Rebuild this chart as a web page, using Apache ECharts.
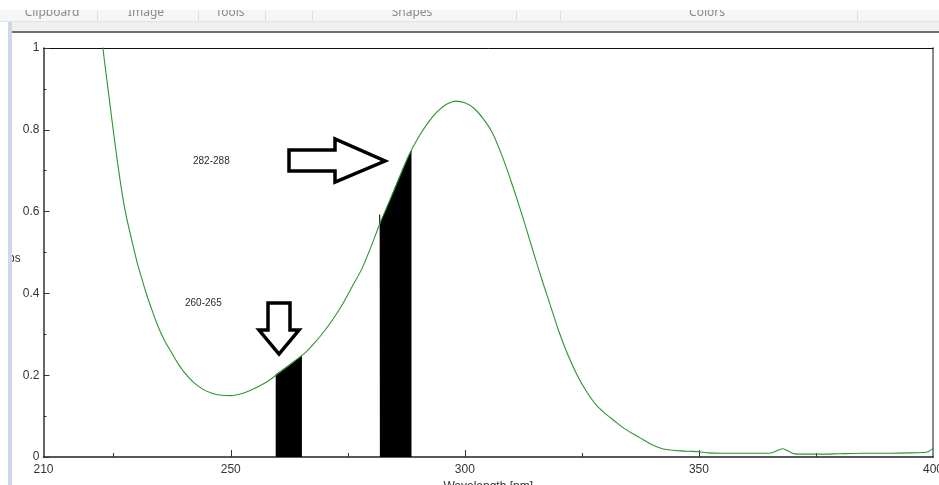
<!DOCTYPE html>
<html>
<head>
<meta charset="utf-8">
<script src="https://cdn.jsdelivr.net/npm/echarts@6/dist/echarts.min.js"></script>
<style>
  html, body { margin: 0; padding: 0; background: #fff; }
  #spectrum { width: 939px; height: 485px; }
</style>
</head>
<body>
<div id="spectrum"></div>
<script>
// wavelength (nm) and absorbance
const wavelength = [
  222, 223, 224, 225, 226, 227, 228, 229, 230, 231, 232, 233, 234, 235, 236, 237, 238, 239, 240,
  242, 244, 246, 248, 250, 252, 254, 256, 258, 260, 262, 264, 266, 268, 270, 272, 274, 276, 278,
  280, 282, 284, 286, 288, 290, 292, 294, 296, 298, 300, 302, 304, 306, 308, 310, 312, 314, 316,
  318, 320, 322, 324, 326, 328, 330, 332, 334, 336, 338, 340, 342, 344, 346, 348, 350, 352, 355,
  360, 365, 366, 367, 368, 369, 370, 371, 375, 380, 385, 390, 395, 398, 399, 400
]
const absorbance = [
  1.07, 0.97, 0.88, 0.79, 0.705, 0.63, 0.572, 0.523, 0.476, 0.436, 0.398, 0.365, 0.333, 0.305, 0.282, 0.262, 0.242, 0.224, 0.208,
  0.183, 0.166, 0.156, 0.151, 0.150, 0.154, 0.162, 0.173, 0.186, 0.203, 0.22, 0.238, 0.256, 0.28, 0.308, 0.34, 0.376, 0.418, 0.46,
  0.515, 0.575, 0.628, 0.683, 0.737, 0.78, 0.815, 0.843, 0.862, 0.870, 0.866, 0.852, 0.826, 0.79, 0.735, 0.67, 0.60, 0.525, 0.45,
  0.38, 0.31, 0.25, 0.20, 0.16, 0.128, 0.106, 0.088, 0.07, 0.056, 0.043, 0.03, 0.021, 0.017, 0.015, 0.014, 0.013, 0.01, 0.009,
  0.009, 0.009, 0.012, 0.017, 0.02, 0.015, 0.009, 0.007, 0.007, 0.008, 0.009, 0.009, 0.01, 0.011, 0.013, 0.021
]

// shaded bands (260-265 and 282-288), top edge
const band1X = [259.6, 261, 263, 265.2]
const band1Y = [0.201, 0.212, 0.229, 0.246]
const band2X = [281.8, 281.85, 283, 285, 287, 288.6]
const band2Y = [0.593, 0.57, 0.60, 0.655, 0.71, 0.748]

const xLabels = [210, 250, 300, 350, 400]
const xMajorTicks = [250, 300, 350]
const xMinorTicks = [225, 275, 325, 375]
const bandLabels = ['282-288', '260-265']
const toolbarLabels = ['Clipboard', 'Image', 'Tools', 'Shapes', 'Colors']

const zip = (xs, ys) => xs.map((x, i) => [x, ys[i]])

const myChart = echarts.init(document.getElementById('spectrum'))

const axisFont = { fontFamily: 'Liberation Sans', fontSize: 12, color: '#333' }

const options = {
  animation: false,
  backgroundColor: '#fff',
  grid: { left: 43.5, right: 6, top: 48, bottom: 28, outerBoundsMode: 'none', containLabel: false },
  xAxis: [
    {
      type: 'value',
      min: 210,
      max: 400,
      position: 'bottom',
      name: 'Wavelength [nm]',
      nameLocation: 'middle',
      nameGap: 23,
      nameTextStyle: axisFont,
      axisLine: { lineStyle: { color: '#222', width: 1.5 } },
      axisTick: { inside: true, length: 7, customValues: xMajorTicks, lineStyle: { color: '#333' } },
      axisLabel: { customValues: xLabels, margin: 7, ...axisFont },
      splitLine: { show: false }
    },
    {
      // short ticks between the labelled ones
      type: 'value',
      min: 210,
      max: 400,
      position: 'bottom',
      axisLine: { show: false },
      axisTick: { inside: true, length: 4, customValues: xMinorTicks, lineStyle: { color: '#333' } },
      axisLabel: { show: false },
      splitLine: { show: false }
    },
    {
      // frame on top
      type: 'value',
      min: 210,
      max: 400,
      position: 'top',
      axisLine: { lineStyle: { color: '#111', width: 1 } },
      axisTick: { show: false },
      axisLabel: { show: false },
      splitLine: { show: false }
    }
  ],
  yAxis: [
    {
      type: 'value',
      min: 0,
      max: 1,
      interval: 0.2,
      axisLine: { show: true, lineStyle: { color: '#333', width: 1.5 } },
      axisTick: { show: true, inside: true, length: 6, lineStyle: { color: '#333' } },
      minorTick: { show: true, splitNumber: 2, length: 3, lineStyle: { color: '#333' } },
      axisLabel: { margin: 4, ...axisFont },
      splitLine: { show: false }
    },
    {
      type: 'value',
      min: 0,
      max: 1,
      position: 'right',
      axisLine: { show: true, lineStyle: { color: '#888', width: 2 } },
      axisTick: { show: false },
      axisLabel: { show: false },
      splitLine: { show: false }
    }
  ],
  series: [
    {
      type: 'line',
      data: zip(band1X, band1Y),
      symbol: 'none',
      lineStyle: { color: '#000', width: 1 },
      areaStyle: { color: '#000', opacity: 1 },
      z: 2
    },
    {
      type: 'line',
      data: zip(band2X, band2Y),
      symbol: 'none',
      lineStyle: { color: '#000', width: 1 },
      areaStyle: { color: '#000', opacity: 1 },
      z: 2
    },
    {
      type: 'line',
      data: zip(wavelength, absorbance),
      symbol: 'none',
      smooth: 0.2,
      clip: true,
      lineStyle: { color: '#2e9430', width: 1.1 },
      z: 3
    }
  ],
  graphic: [
    // band captions
    { type: 'text', left: 193, top: 156, style: { text: bandLabels[0], font: '10px "Liberation Sans"', fill: '#2a2a35' } },
    { type: 'text', left: 185, top: 298, style: { text: bandLabels[1], font: '10px "Liberation Sans"', fill: '#2a2a35' } },
    // block arrows
    {
      type: 'polygon',
      shape: { points: [[289, 150], [335, 150], [335, 139], [385, 161], [335, 182], [335, 171], [289, 171]] },
      style: { fill: '#fff', stroke: '#000', lineWidth: 3.5, lineJoin: 'miter' },
      z: 10
    },
    {
      type: 'polygon',
      shape: { points: [[268, 303], [290, 303], [290, 330], [299, 330], [279, 354], [259, 330], [268, 330]] },
      style: { fill: '#fff', stroke: '#000', lineWidth: 3.5, lineJoin: 'miter' },
      z: 10
    },
    // y axis caption, clipped by the window edge
    { type: 'text', left: 0, top: 253, style: { text: 'Abs', font: '12px "Liberation Sans"', fill: '#333', align: 'right', x: 22 }, z: 5 },
    { type: 'rect', shape: { x: 0, y: 22, width: 8, height: 463 }, style: { fill: '#fff' }, z: 6 },
    { type: 'rect', shape: { x: 8, y: 22, width: 4, height: 463 }, style: { fill: '#cdd9ea' }, z: 6 },
    // paint toolbar strip
    { type: 'rect', shape: { x: 0, y: 10, width: 939, height: 11 }, style: { fill: '#f5f6f7' }, z: 6 },
    { type: 'rect', shape: { x: 0, y: 21, width: 939, height: 1 }, style: { fill: '#e2e3e5' }, z: 6 },
    { type: 'rect', shape: { x: 12, y: 22, width: 927, height: 9 }, style: { fill: '#f0f0f0' }, z: 6 },
    { type: 'rect', shape: { x: 12, y: 31, width: 927, height: 2 }, style: { fill: '#6e6e6e' }, z: 6 },
    ...[[52, 0], [146, 1], [230, 2], [412, 3], [707, 4]].map(([cx, i]) => ({
      type: 'text',
      x: cx,
      y: 18.5,
      style: { text: toolbarLabels[i], font: '12px "Noto Sans"', fill: '#8a8a8a', align: 'center', verticalAlign: 'bottom' },
      z: 7
    })),
    ...[97, 198, 265, 312, 516, 560, 857].map(sx => ({
      type: 'rect',
      shape: { x: sx, y: 11, width: 1, height: 9 },
      style: { fill: '#dcdcdc' },
      z: 7
    })),
    { type: 'rect', shape: { x: 0, y: 0, width: 939, height: 10 }, style: { fill: '#fff' }, z: 8 }
  ]
}

myChart.setOption(options)
</script>
</body>
</html>
